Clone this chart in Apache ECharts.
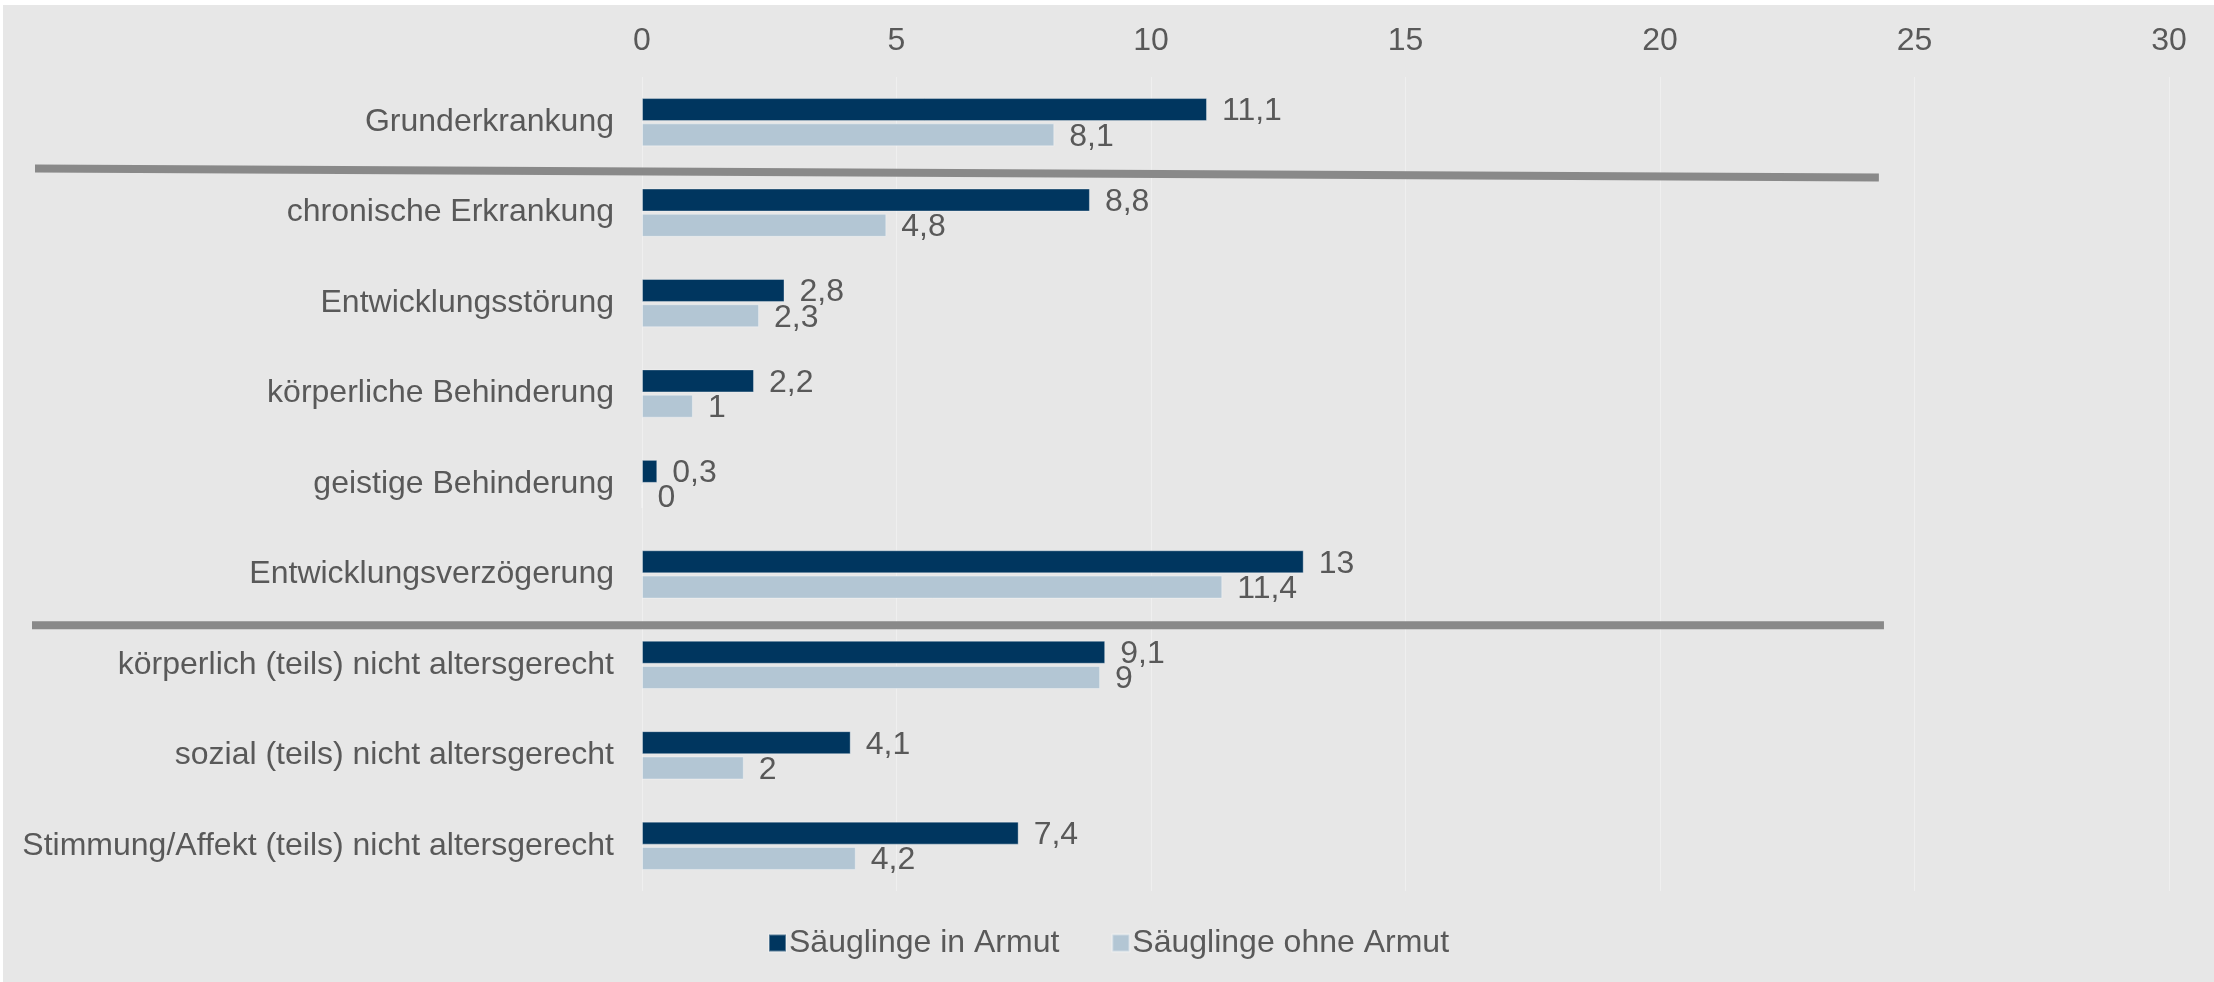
<!DOCTYPE html>
<html>
<head>
<meta charset="utf-8">
<script src="https://cdn.jsdelivr.net/npm/echarts@6/dist/echarts.min.js"></script>
<style>
  html, body { margin: 0; padding: 0; background: #ffffff; }
  #chart { position: absolute; left: 3px; top: 5px; width: 2211px; height: 977px; }
</style>
</head>
<body>
<div id="chart"></div>
<script>
// Categories (top to bottom) and the two series of percentages
const categories = [
  'Grunderkrankung',
  'chronische Erkrankung',
  'Entwicklungsstörung',
  'körperliche Behinderung',
  'geistige Behinderung',
  'Entwicklungsverzögerung',
  'körperlich (teils) nicht altersgerecht',
  'sozial (teils) nicht altersgerecht',
  'Stimmung/Affekt (teils) nicht altersgerecht'
];
const inArmut = [11.1, 8.8, 2.8, 2.2, 0.3, 13, 9.1, 4.1, 7.4];
const ohneArmut = [8.1, 4.8, 2.3, 1, 0, 11.4, 9, 2, 4.2];
const seriesNames = ['Säuglinge in Armut', 'Säuglinge ohne Armut'];
const xTicks = { min: 0, max: 30, interval: 5 };

const TEXT = '#595959';
const FONT = 'Liberation Sans, Arial, sans-serif';
const FS = 32;

const chart = echarts.init(document.getElementById('chart'));

const valueLabel = {
  show: true,
  position: 'right',
  distance: 15,
  color: TEXT,
  fontFamily: FONT,
  fontSize: FS,
  offset: [0, 2],
  formatter: p => String(p.value).replace('.', ',')
};

chart.setOption({
  backgroundColor: '#e7e7e7',
  animation: false,
  textStyle: { fontFamily: FONT },
  grid: { left: 639, right: 45, top: 72, bottom: 91 },
  xAxis: {
    type: 'value',
    position: 'top',
    min: xTicks.min,
    max: xTicks.max,
    interval: xTicks.interval,
    axisLine: { show: false },
    axisTick: { show: false },
    axisLabel: { color: TEXT, fontSize: FS, fontFamily: FONT, margin: 20 },
    splitLine: { show: true, lineStyle: { color: '#efefef', width: 1 } }
  },
  yAxis: {
    type: 'category',
    data: categories,
    inverse: true,
    axisLine: { show: false },
    axisTick: { show: false },
    axisLabel: { color: TEXT, fontSize: FS, fontFamily: FONT, margin: 28 },
    splitLine: { show: false }
  },
  legend: {
    bottom: 18,
    left: 'center',
    itemWidth: 17,
    itemHeight: 17,
    itemGap: 52,
    icon: 'rect',
    textStyle: { color: TEXT, fontSize: FS, fontFamily: FONT, padding: [0, 0, 0, -2] },
    data: seriesNames
  },
  series: [
    {
      name: seriesNames[0],
      type: 'bar',
      data: inArmut,
      barWidth: 23,
      barGap: '10%',
      itemStyle: { color: '#00365f', borderColor: 'rgba(255,255,255,0.35)', borderWidth: 1 },
      label: valueLabel
    },
    {
      name: seriesNames[1],
      type: 'bar',
      data: ohneArmut,
      barWidth: 23,
      barGap: '10%',
      itemStyle: { color: '#b3c6d4', borderColor: 'rgba(255,255,255,0.35)', borderWidth: 1 },
      label: valueLabel
    }
  ]
});

// Grey divider lines separating the three groups of categories
function catMid(i) {
  const a = chart.convertToPixel({ yAxisIndex: 0 }, categories[i]);
  const b = chart.convertToPixel({ yAxisIndex: 0 }, categories[i + 1]);
  return (a + b) / 2;
}
const m1 = catMid(0);
const m2 = catMid(5);
const lineStyle = { stroke: '#898989', lineWidth: 8, lineCap: 'butt' };
chart.setOption({
  graphic: [
    {
      type: 'line',
      shape: { x1: 32, y1: m1 + 1, x2: chart.convertToPixel({ xAxisIndex: 0 }, 24.3), y2: m1 + 10 },
      style: lineStyle,
      z: 10
    },
    {
      type: 'line',
      shape: { x1: 29, y1: m2 + 5.5, x2: chart.convertToPixel({ xAxisIndex: 0 }, 24.4), y2: m2 + 5.5 },
      style: lineStyle,
      z: 10
    }
  ]
});
</script>
</body>
</html>
